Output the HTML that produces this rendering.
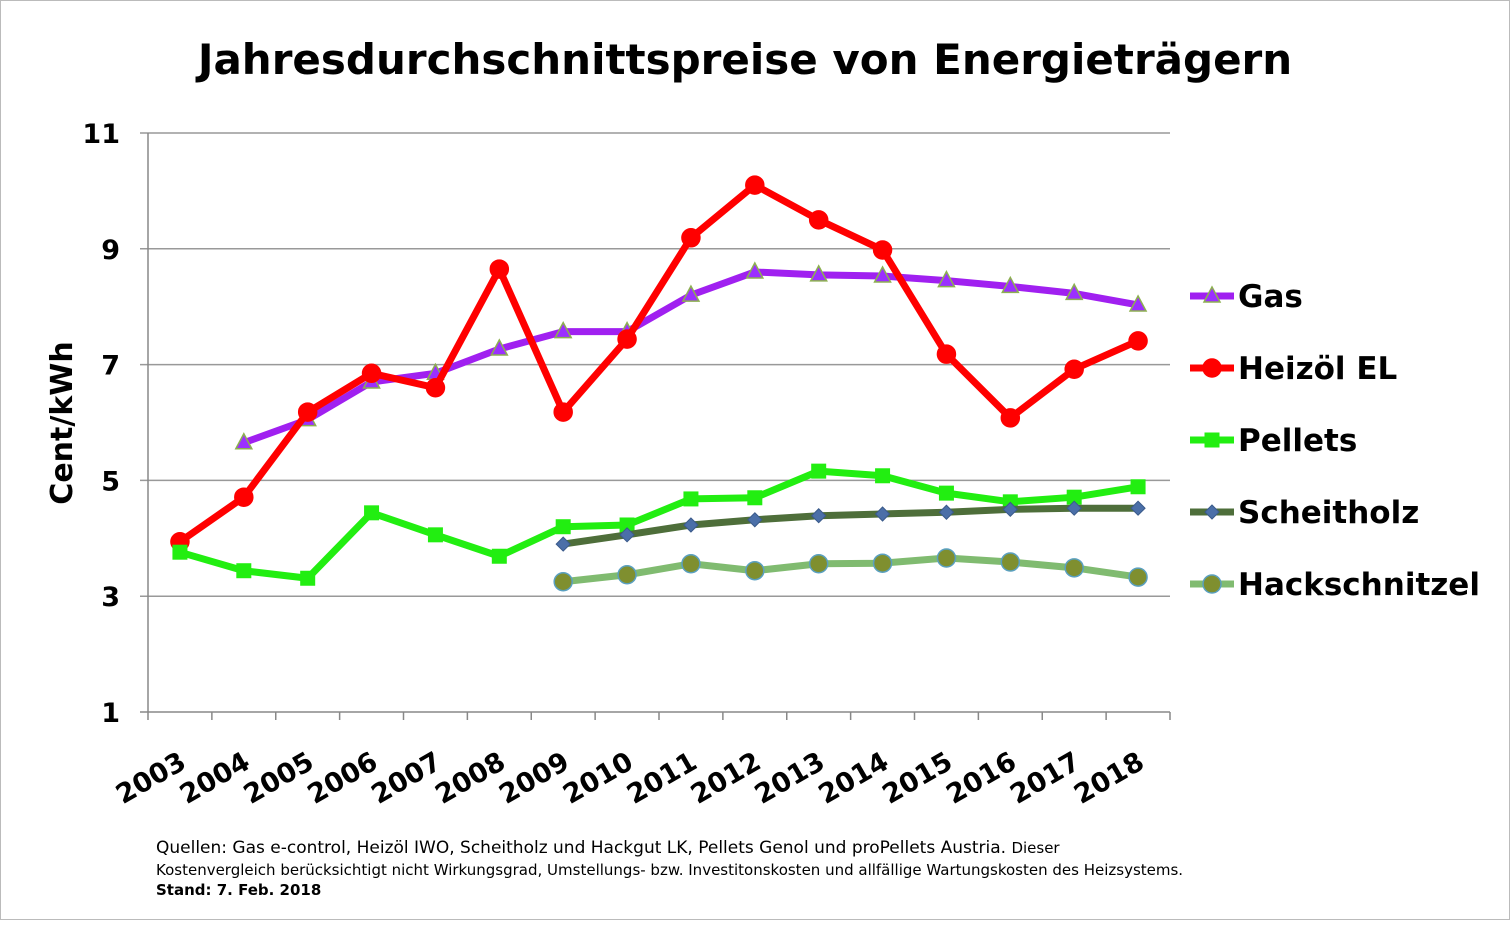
<!DOCTYPE html>
<html><head><meta charset="utf-8"><style>
body{margin:0;background:#fff;}
svg text{font-family:"DejaVu Sans","Liberation Sans",sans-serif;}
</style></head><body>
<svg id="chart" width="1510" height="920" xmlns="http://www.w3.org/2000/svg">
<rect x="0.5" y="0.5" width="1509" height="919" fill="#fff" stroke="#bbb"/>
<text x="745" y="74" text-anchor="middle" font-size="42" font-weight="bold">Jahresdurchschnittspreise von Energieträgern</text>
<text transform="translate(72,423) rotate(-90)" text-anchor="middle" font-size="30" font-weight="bold">Cent/kWh</text>
<g id="grid"></g><g id="series"></g><g id="legend"></g>
<text x="156" y="853" font-size="17">Quellen: Gas e-control, Heizöl IWO, Scheitholz und Hackgut LK, Pellets Genol und proPellets Austria. <tspan font-size="15">Dieser</tspan></text>
<text x="156" y="875" font-size="15">Kostenvergleich berücksichtigt nicht Wirkungsgrad, Umstellungs- bzw. Investitonskosten und allfällige Wartungskosten des Heizsystems.</text>
<text x="156" y="895" font-size="15" font-weight="bold">Stand: 7. Feb. 2018</text>
</svg>
<script>
const years=["2003","2004","2005","2006","2007","2008","2009","2010","2011","2012","2013","2014","2015","2016","2017","2018"];
const yTicks=[1,3,5,7,9,11];
const gas=[null,5.65,6.05,6.7,6.85,7.27,7.57,7.57,8.2,8.6,8.55,8.53,8.45,8.35,8.23,8.03];
const heizoel=[3.94,4.71,6.18,6.85,6.6,8.65,6.18,7.44,9.19,10.1,9.5,8.98,7.18,6.08,6.92,7.41];
const pellets=[3.76,3.44,3.31,4.44,4.06,3.69,4.2,4.23,4.68,4.7,5.16,5.08,4.78,4.63,4.71,4.89];
const scheitholz=[null,null,null,null,null,null,3.9,4.06,4.23,4.32,4.39,4.42,4.45,4.5,4.52,4.52];
const hackschnitzel=[null,null,null,null,null,null,3.25,3.37,3.56,3.44,3.56,3.57,3.66,3.59,3.49,3.33];
const NS="http://www.w3.org/2000/svg";
const x0=148,x1=1170,yTop=133,yBot=712,vMin=1,vMax=11;
const bw=(x1-x0)/years.length;
const X=i=>x0+bw*(i+0.5);
const Y=v=>yBot-(v-vMin)/(vMax-vMin)*(yBot-yTop);
function mk(tag,attrs,parent){const e=document.createElementNS(NS,tag);for(const k in attrs)e.setAttribute(k,attrs[k]);parent.appendChild(e);return e;}
const grid=document.getElementById('grid');
yTicks.forEach(v=>{
  const l=mk('line',{x1:x0-8,x2:x1,y1:Y(v),y2:Y(v),stroke:v===vMin?'#888':'#999','stroke-width':1.5},grid);
  
  
  const t=mk('text',{x:x0-28,y:Y(v)+10,'text-anchor':'end','font-size':27,'font-weight':'bold'},grid);
  t.textContent=v;
  
  
});
const ax=mk('line',{x1:x0,x2:x0,y1:yTop,y2:yBot,stroke:'#888','stroke-width':1.5},grid);


for(let i=0;i<=years.length;i++){
  const tk=mk('line',{x1:x0+bw*i,x2:x0+bw*i,y1:yBot,y2:yBot+8,stroke:'#888','stroke-width':1.5},grid);
  
  
}
years.forEach((yr,i)=>{
  const t=mk('text',{transform:`translate(${X(i)+8},${yBot+55}) rotate(-30)`,'text-anchor':'end','font-size':27,'font-weight':'bold'},grid);
  t.textContent=yr;
  
  
});
const S=[
 {name:'Gas',data:gas,color:'#a020f0',w:7,m:'tri',mf:'#9b30ff',ms:'#8db050'},
 {name:'Heizöl EL',data:heizoel,color:'#ff0000',w:7,m:'circle',mf:'#ff0000',ms:'#ff0000'},
 {name:'Pellets',data:pellets,color:'#22ee11',w:7,m:'square',mf:'#22ee11',ms:'#22ee11'},
 {name:'Scheitholz',data:scheitholz,color:'#4e6e3a',w:7,m:'diamond',mf:'#4b6fa8',ms:'#3a5a8a'},
 {name:'Hackschnitzel',data:hackschnitzel,color:'#80bb70',w:7,m:'circle',mf:'#7f8f2f',ms:'#5aa0c0'}
];
function marker(g,type,x,y,fill,stroke,scale){
  let e;const s=scale||1;
  if(type==='tri')e=mk('polygon',{points:`${x},${y-9*s} ${x-8*s},${y+6*s} ${x+8*s},${y+6*s}`,fill,stroke,'stroke-width':1.5},g);
  else if(type==='circle')e=mk('circle',{cx:x,cy:y,r:9*s,fill,stroke,'stroke-width':1.5},g);
  else if(type==='square')e=mk('rect',{x:x-7*s,y:y-7*s,width:14*s,height:14*s,fill,stroke},g);
  else e=mk('polygon',{points:`${x},${y-7*s} ${x+7*s},${y} ${x},${y+7*s} ${x-7*s},${y}`,fill,stroke,'stroke-width':1},g);
  
  
}
const sg=document.getElementById('series');
S.forEach(s=>{
  const g=mk('g',{},sg);
  
  
  let pts=[];s.data.forEach((v,i)=>{if(v!=null)pts.push(X(i)+','+Y(v));});
  const p=mk('polyline',{points:pts.join(' '),fill:'none',stroke:s.color,'stroke-width':s.w,'stroke-linejoin':'round'},g);
  
  
  s.data.forEach((v,i)=>{if(v!=null)marker(g,s.m,X(i),Y(v),s.mf,s.ms);});
});
const lg=document.getElementById('legend');
S.forEach((s,k)=>{
  const y=296+k*72;
  const g=mk('g',{},lg);
  
  
  mk('line',{x1:1190,x2:1234,y1:y,y2:y,stroke:s.color,'stroke-width':7},g);
  marker(g,s.m,1212,y,s.mf,s.ms);
  const t=mk('text',{x:1238,y:y+11,'font-size':31,'font-weight':'bold'},g);
  t.textContent=s.name;
});
</script>
</body></html>
